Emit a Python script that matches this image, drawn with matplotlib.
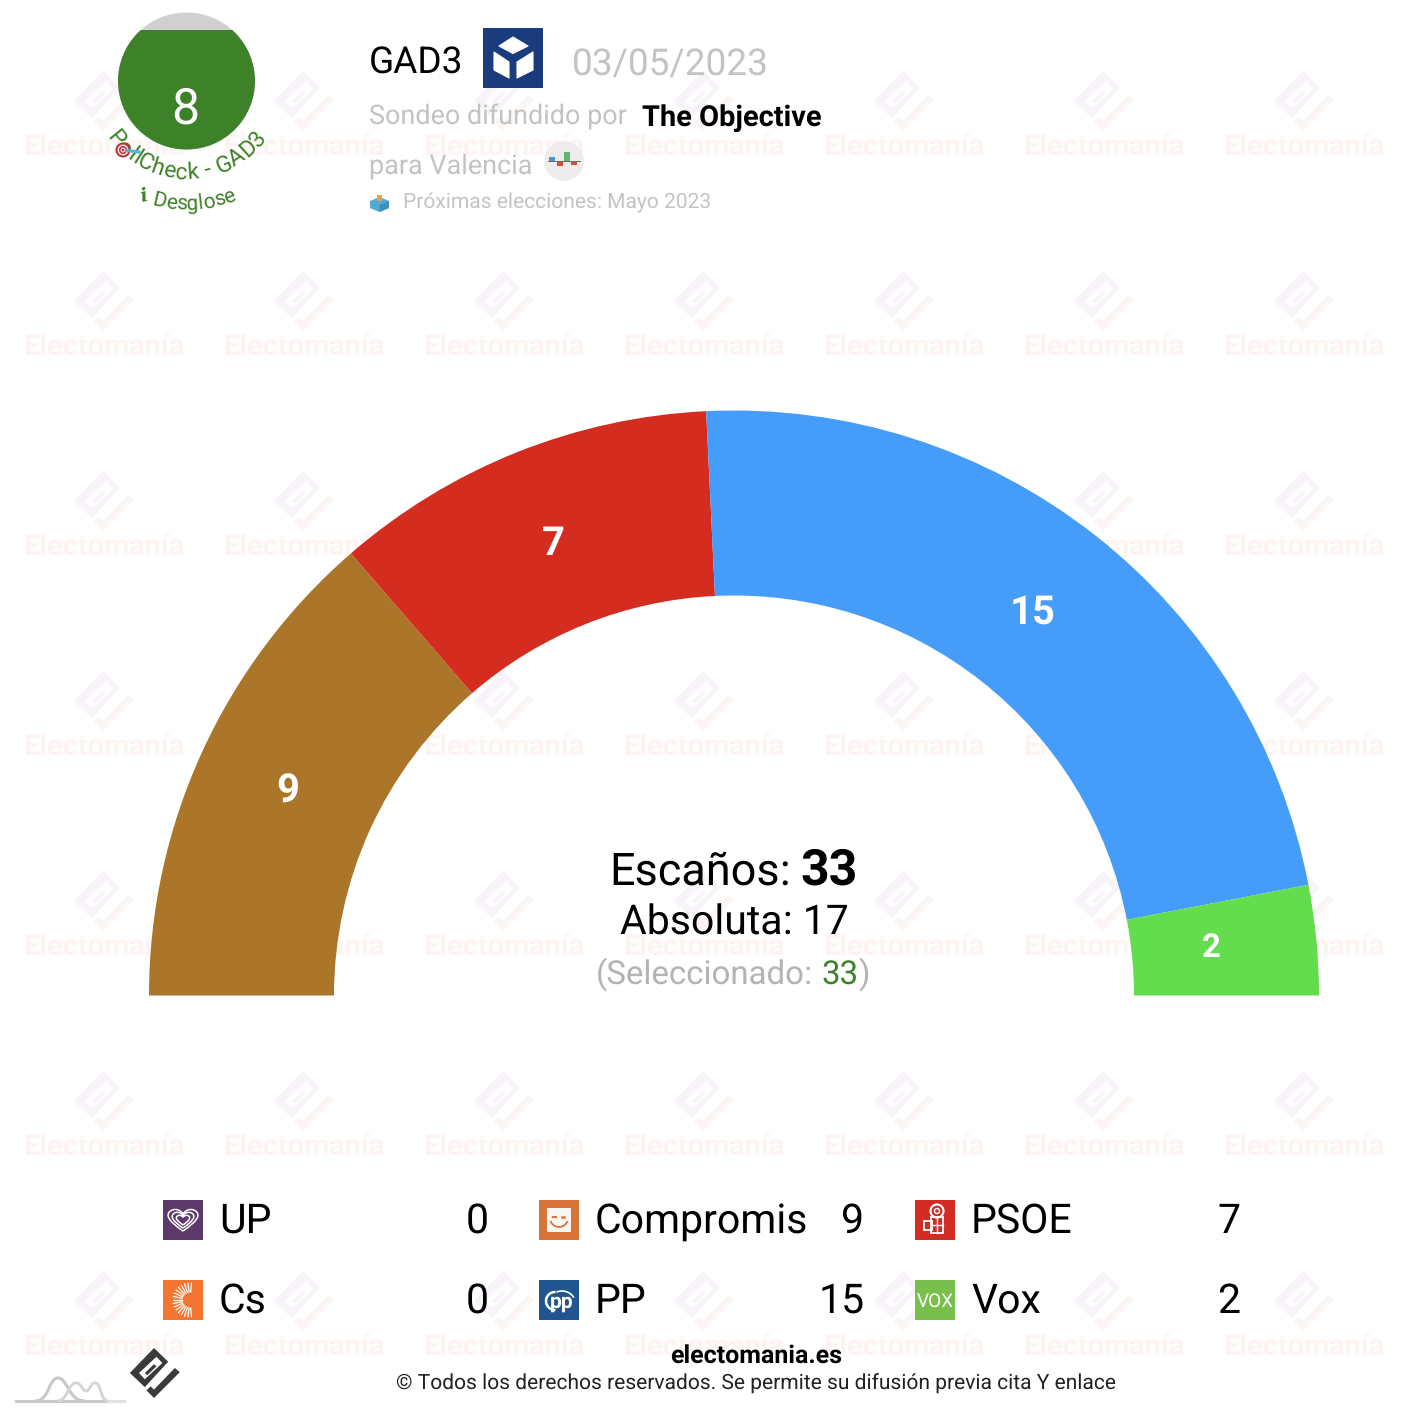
import numpy as np
import matplotlib
matplotlib.use("Agg")
import matplotlib.pyplot as plt
from matplotlib.patches import Polygon, Circle, Rectangle, PathPatch, FancyBboxPatch
from matplotlib.path import Path
from matplotlib.font_manager import FontProperties

# ---------- data ----------
arc_parties = ["Compromis", "PSOE", "PP", "Vox"]
arc_seats = [9, 7, 15, 2]
arc_colors = ["#ab7629", "#d42d1f", "#459df9", "#63dc4d"]
label_radii = [490, 490, 490, 490]
label_sizes = [40, 40, 40, 33]
label_dx = [-1, 1, -4, -10]
label_dy = [-4, -1, -2, -4]

legend_names = ["UP", "Compromis", "PSOE", "Cs", "PP", "Vox"]
legend_seats = [0, 9, 7, 0, 15, 2]
total_seats = 33
majority = 17
selected = 33
poll_score = 8
pollster = "GAD3"
poll_date = "03/05/2023"
media = "The Objective"
region = "para Valencia"
next_election = "Próximas elecciones: Mayo 2023"

W, H = 1418, 1420
plt.rcParams["font.family"] = ["Roboto", "DejaVu Sans"]
plt.rcParams["text.hinting"] = "no_hinting"
plt.rcParams["text.hinting_factor"] = 1
fig = plt.figure(figsize=(W / 100, H / 100), dpi=100, facecolor="white")
ax = fig.add_axes([0, 0, 1, 1])


def fs(px):
    return px * 0.72


GREEN = "#3d8128"
GRAY = "#c3c3c3"


# ---------- logo ----------
def logo(ox, oy, s, c1, c2, hole, inner, z):
    def t(pts):
        return [(ox + (x - 103) * s, oy + (y - 272) * s) for x, y in pts]
    ax.add_patch(Polygon(t([(103, 272), (120, 288.5), (92, 319), (74, 302)]), fc=c1, ec="none", zorder=z))
    ax.add_patch(Polygon(t([(85, 302), (106, 282.5), (113, 290), (92, 309.5)]), fc=hole, ec="none", zorder=z))
    ax.add_patch(Polygon(t([(92, 302), (103, 291.5), (106, 294), (95, 304.5)]), fc=inner, ec="none", zorder=z))
    ax.add_patch(Polygon(t([(128, 296), (134, 301), (103, 332), (94, 323), (99, 318), (103, 322)]), fc=c2, ec="none", zorder=z))


for ty in range(100, 1400, 200):
    for tx in range(104, 1400, 200):
        logo(tx - 1, ty - 29, 1.0, "#f7f3f9", "#fbf5f3", "white", "#f7f3f9", 0)
        ax.text(tx, ty + 55.5, "Electomanía", fontsize=fs(28.8), fontweight="bold", color="#fdf4f1",
                ha="center", va="baseline", zorder=0)

# ---------- hemicycle ----------
cx, cy, R_out, R_in = 734, 995.5, 585, 400
fractions = np.array(arc_seats) / (2 * sum(arc_seats))
ax.pie(fractions, colors=arc_colors, normalize=False, startangle=180, counterclock=True,
       center=(cx, cy), radius=R_out, frame=True,
       wedgeprops=dict(width=R_out - R_in, linewidth=0, zorder=2))
ax.set_aspect("auto")
ax.set_xlim(0, W)
ax.set_ylim(H, 0)
ax.axis("off")

cum = np.cumsum([0] + arc_seats)
for i, v in enumerate(arc_seats):
    a = np.pi - np.pi * (cum[i] + v / 2) / sum(arc_seats)
    ax.text(cx + label_radii[i] * np.cos(a) + label_dx[i], cy - label_radii[i] * np.sin(a) + label_dy[i], str(v),
            color="white", fontsize=fs(label_sizes[i]), fontweight="bold", ha="center", va="center_baseline", zorder=3)

# ---------- centre text ----------
ax.text(609, 884.5, "Escaños:", fontsize=fs(45), ha="left", va="baseline", color="black", zorder=3)
ax.text(858, 884.5, str(total_seats), fontsize=fs(50), fontweight="bold", ha="right", va="baseline", color="black", zorder=3)
ax.text(734, 935, f"Absoluta: {majority}", fontsize=fs(41), ha="center", va="baseline", color="black", zorder=3)
ax.text(596, 984.5, "(Seleccionado:", fontsize=fs(33), ha="left", va="baseline", color="#b3b3b3", zorder=3)
ax.text(858.5, 984.5, str(selected), fontsize=fs(33), ha="right", va="baseline", color=GREEN, zorder=3)
ax.text(870, 984.5, ")", fontsize=fs(33), ha="right", va="baseline", color="#b3b3b3", zorder=3)

# ---------- score circle ----------
circ = Circle((186.5, 81), 68.5, fc="#d0d0d0", ec="none", zorder=2)
ax.add_patch(circ)
fill = Rectangle((110, 30), 160, 130, fc=GREEN, ec="none", zorder=3)
ax.add_patch(fill)
fill.set_clip_path(circ)
ax.text(185.5, 123.5, str(poll_score), color="white", fontsize=fs(50), ha="center", va="baseline", zorder=4)

renderer = fig.canvas.get_renderer()


def arc_text(s, r, mid_deg, px, spacing=0.0, color=GREEN):
    fp = FontProperties(family="Roboto", size=fs(px))
    adv = [renderer.get_text_width_height_descent(s[:i], fp, False)[0] if i else 0 for i in range(len(s) + 1)]
    adv = [a + spacing * i for i, a in enumerate(adv)]
    total = adv[-1]
    for i, ch in enumerate(s):
        if ch == " ":
            continue
        mid = (adv[i] + adv[i + 1]) / 2 - spacing / 2 - total / 2
        th = np.radians(mid_deg) + mid / r   # angle from straight down, positive to the right
        x = 186.5 + r * np.sin(th)
        y = 81 + r * np.cos(th)
        ax.text(x, y, ch, fontsize=fs(px), color=color, ha="center", va="baseline",
                rotation=np.degrees(th), rotation_mode="anchor", zorder=4)


arc_text("PollCheck - " + pollster, 98, 0, 23.5, spacing=0.6)
arc_text("Desglose", 128.5, 3.5, 21.5, spacing=0.1)
ax.text(144, 202, "i", fontsize=fs(19), family="DejaVu Serif", fontweight="bold", style="italic", color=GREEN,
        rotation=12, ha="center", va="baseline", zorder=4)
# target emoji
for r, c in [(7.5, "#b8323c"), (5.5, "#f3dcdc"), (4, "#c8323c"), (2.5, "#f3dcdc"), (1.3, "#c8323c")]:
    ax.add_patch(Circle((123, 150), r, fc=c, ec="none", zorder=5))
ax.plot([127, 139], [150.5, 152], color="#4fb8d8", lw=2.2, zorder=5)

# ---------- header ----------
ax.text(369, 74, pollster, fontsize=fs(37), ha="left", va="baseline", color="black", zorder=3)
ax.add_patch(Rectangle((483, 28), 60, 60, fc="#1a3c7c", ec="none", zorder=2))
for pts in ([(513, 37), (528, 46), (513, 53.5), (499, 46)],
            [(494, 52), (509, 62), (509, 78), (494, 70)],
            [(533, 52), (517, 62), (517, 78), (533, 70)]):
    ax.add_patch(Polygon(pts, fc="white", ec="white", lw=0.8, joinstyle="round", zorder=3))
ax.text(572, 74.5, poll_date, fontsize=fs(36.9), ha="left", va="baseline", color=GRAY, zorder=3)
ax.text(369, 125, "Sondeo difundido por", fontsize=fs(27), ha="left", va="baseline", color=GRAY, zorder=3)
ax.text(642, 125.5, media, fontsize=fs(28.6), fontweight="bold", ha="left", va="baseline", color="black", zorder=3)
ax.text(369, 174, region, fontsize=fs(27), ha="left", va="baseline", color=GRAY, zorder=3)
ax.add_patch(Circle((564, 161), 20, fc="#eeeced", ec="none", zorder=2))
ax.plot([548, 580], [161, 161], color="#666666", lw=0.7, zorder=3)
for x0, y0, w, h, c in [(549, 157, 6, 4, "#4c95d6"), (557, 162, 6, 4, "#d4503c"),
                        (564, 152, 6, 9, "#62b56a"), (571, 162, 6, 2.5, "#d4503c")]:
    ax.add_patch(Rectangle((x0, y0), w, h, fc=c, ec="none", zorder=3))
ax.add_patch(Polygon([(379.5, 197), (389, 201), (389, 208), (379.5, 212), (370, 208), (370, 201)],
                     fc="#58a8d4", ec="none", zorder=3))
ax.add_patch(Polygon([(379.5, 205), (389, 201), (389, 208), (379.5, 212)], fc="#3f8fbd", ec="none", zorder=3))
ax.add_patch(Rectangle((377, 194.5), 5, 6, fc="#f0a040", ec="none", zorder=4))
ax.text(403, 209, next_election, fontsize=fs(21.2), ha="left", va="baseline", color=GRAY, zorder=3)

# ---------- legend ----------
col_icon = [163, 539, 915]
col_text = [219, 595, 971]
col_num = [488.5, 864.5, 1240]
row_top = [1200, 1280]
icon_colors = {"UP": "#5b3a6a", "Compromis": "#d9743a", "PSOE": "#d32c25",
               "Cs": "#f37530", "PP": "#20558f", "Vox": "#78bf4b"}


def heart(x, y, s):
    verts = [(x, y + 13 * s), (x - 16 * s, y + 2 * s), (x - 19 * s, y - 4 * s), (x - 17 * s, y - 8 * s),
             (x - 14 * s, y - 14 * s), (x - 4 * s, y - 14 * s), (x, y - 7 * s),
             (x + 4 * s, y - 14 * s), (x + 14 * s, y - 14 * s), (x + 17 * s, y - 8 * s),
             (x + 19 * s, y - 4 * s), (x + 16 * s, y + 2 * s), (x, y + 13 * s)]
    codes = [Path.MOVETO] + [Path.CURVE4] * 12
    return Path(verts, codes)


def draw_icon(name, x, y):
    ax.add_patch(Rectangle((x, y), 40, 40, fc=icon_colors[name], ec="none", zorder=2))
    mx, my = x + 20, y + 20
    if name == "UP":
        for s in (0.85, 0.62, 0.38):
            ax.add_patch(PathPatch(heart(mx, my, s), fc="none", ec="white", lw=1.1, zorder=3))
    elif name == "Compromis":
        ax.add_patch(FancyBboxPatch((x + 8, y + 8), 24, 24, boxstyle="round,pad=0,rounding_size=1",
                                    fc="#f8f6f2", ec="none", zorder=3))
        t = np.linspace(np.radians(25), np.radians(155), 20)
        ax.plot(mx + 9 * np.cos(t), my - 2 + 9 * np.sin(t), color=icon_colors[name], lw=1.3, zorder=4)
        ax.plot([mx - 6, mx - 3], [my - 3, my - 3], color=icon_colors[name], lw=1.5, zorder=4)
        ax.plot([mx + 3, mx + 5], [my - 3, my - 3], color=icon_colors[name], lw=1.8, zorder=4)
    elif name == "PSOE":
        ax.add_patch(Circle((mx + 2, y + 11), 6.5, fc="none", ec="white", lw=1.5, zorder=3))
        ax.add_patch(Circle((mx + 2, y + 11), 2.5, fc="none", ec="white", lw=1, zorder=3))
        ax.add_patch(Rectangle((mx - 4, y + 17), 12, 16, fc="none", ec="white", lw=1.3, zorder=3))
        ax.add_patch(Rectangle((mx - 11, y + 21), 8, 9, fc="none", ec="white", lw=1.3, zorder=3))
        ax.plot([mx + 2, mx + 2], [y + 17, y + 33], color="white", lw=1, zorder=3)
        ax.plot([mx - 4, mx + 8], [y + 25, y + 25], color="white", lw=1, zorder=3)
    elif name == "Cs":
        for a in np.radians(np.linspace(85, 275, 17)):
            ax.plot([x + 27 + 8 * np.cos(a), x + 27 + 17 * np.cos(a)],
                    [my - 8 * np.sin(a), my - 17 * np.sin(a)], color="white", lw=0.9, zorder=3)
    elif name == "PP":
        ax.text(mx + 3, my + 8, "pp", color="white", fontsize=fs(21), fontweight="bold",
                ha="center", va="baseline", zorder=3)
        t = np.radians(np.linspace(95, 265, 20))
        ax.plot(mx - 4 + 9 * np.cos(t), my + 1 - 9 * np.sin(t), color="white", lw=1.8, zorder=3)
        t = np.radians(np.linspace(35, 110, 20))
        ax.plot(mx + 3 + 14 * np.cos(t), my + 5 - 14 * np.sin(t), color="white", lw=1.2, zorder=3)
    elif name == "Vox":
        ax.text(mx, my + 7, "VOX", color="white", fontsize=fs(19), ha="center", va="baseline", zorder=3)


for i, (name, val) in enumerate(zip(legend_names, legend_seats)):
    c, r = i % 3, i // 3
    draw_icon(name, col_icon[c], row_top[r])
    ax.text(col_text[c], row_top[r] + 33, name, fontsize=fs(40.8), ha="left", va="baseline", color="black", zorder=3)
    ax.text(col_num[c], row_top[r] + 33, str(val), fontsize=fs(40.8), ha="right", va="baseline", color="black", zorder=3)

# ---------- footer ----------
logo(154, 1348, 0.833, "#3a3a3a", "#3a3a3a", "white", "#3a3a3a", 3)
ax.plot([16, 108], [1401, 1401], color="#c8c8c8", lw=2.2, zorder=2)
ax.plot([108, 124], [1401, 1401], color="#e2e2e2", lw=2.2, zorder=2)
ax.add_patch(PathPatch(Path([(35, 1401), (50, 1401), (48, 1378), (58, 1378), (68, 1378), (68, 1401), (85, 1401)],
                            [Path.MOVETO] + [Path.CURVE4] * 6), fc="none", ec="#c8c8c8", lw=2.2, zorder=2))
ax.add_patch(PathPatch(Path([(57, 1401), (68, 1401), (68, 1383), (76, 1383), (82, 1383), (82, 1391), (86, 1391),
                             (90, 1391), (90, 1383), (95, 1383), (102, 1383), (100, 1401), (108, 1401)],
                            [Path.MOVETO] + [Path.CURVE4] * 12), fc="none", ec="#d4d4d4", lw=2.0, zorder=2))
ax.text(756, 1363.5, "electomania.es", fontsize=fs(24.6), fontweight="bold", ha="center", va="baseline", color="black", zorder=3)
ax.text(755.5, 1390, "© Todos los derechos reservados. Se permite su difusión previa cita Y enlace",
        fontsize=fs(21), ha="center", va="baseline", color="#222222", zorder=3)

fig.savefig("out.png", dpi=100, facecolor="white")
